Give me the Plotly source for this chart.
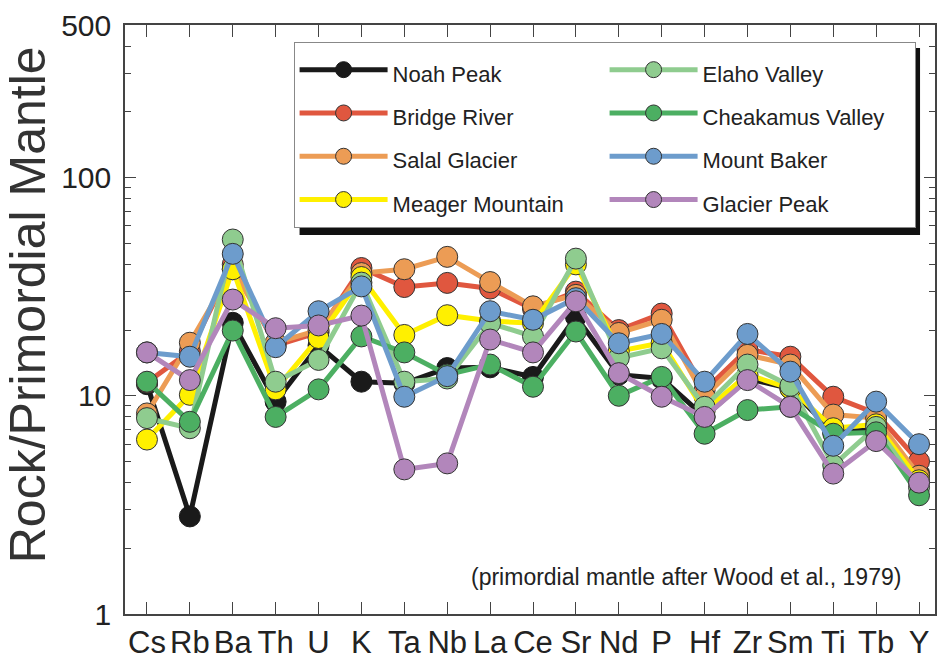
import plotly.graph_objects as go
import numpy as np

categories = ["Cs", "Rb", "Ba", "Th", "U", "K", "Ta", "Nb", "La", "Ce",
              "Sr", "Nd", "P", "Hf", "Zr", "Sm", "Ti", "Tb", "Y"]

noah_peak = [11.3, 2.8, 21.6, 9.4, 17.0, 11.6, 11.4, 13.4, 13.5, 12.2,
             23.0, 12.5, 12.0, 8.0, 12.0, 10.8, 6.8, 7.0, 4.4]
bridge_river = [11.5, 16.0, 40.0, 17.0, 19.5, 38.5, 31.5, 32.9, 31.0, 25.0,
                30.0, 20.0, 23.8, 10.6, 16.3, 15.1, 9.9, 8.3, 5.0]
salal_glacier = [8.3, 17.5, 38.0, 17.5, 20.0, 36.5, 38.0, 43.3, 33.2, 25.7,
                 29.0, 19.4, 22.3, 9.9, 15.4, 13.9, 8.2, 7.9, 4.3]
meager_mountain = [6.3, 10.1, 38.0, 10.7, 18.4, 35.0, 19.0, 23.4, 22.0, 21.5,
                   40.0, 16.0, 17.5, 8.5, 12.5, 10.8, 7.1, 7.4, 4.1]
elaho_valley = [7.9, 7.1, 52.0, 11.6, 14.6, 33.0, 11.6, 12.0, 21.5, 18.7,
                42.5, 14.9, 16.5, 8.9, 13.9, 11.1, 4.8, 7.2, 3.8]
cheakamus_valley = [11.6, 7.6, 19.9, 8.0, 10.7, 18.7, 15.8, 12.5, 13.9, 11.0,
                    19.7, 10.0, 12.2, 6.7, 8.6, 8.9, 6.7, 6.8, 3.5]
mount_baker = [15.8, 15.1, 44.7, 16.7, 24.4, 31.7, 9.9, 12.3, 24.4, 22.3,
               28.0, 17.4, 19.2, 11.6, 19.2, 12.9, 5.9, 9.4, 6.0]
glacier_peak = [15.8, 11.8, 27.6, 20.4, 21.0, 23.3, 4.6, 4.9, 18.1, 15.8,
                27.1, 12.7, 9.9, 8.0, 11.8, 8.9, 4.4, 6.2, 4.0]

series = [
    ("Noah Peak", noah_peak, "#1a1a1a", 1),
    ("Bridge River", bridge_river, "#e0573f", 3),
    ("Salal Glacier", salal_glacier, "#ec9c55", 5),
    ("Meager Mountain", meager_mountain, "#fff000", 7),
    ("Elaho Valley", elaho_valley, "#8fcc8f", 2),
    ("Cheakamus Valley", cheakamus_valley, "#4caf62", 4),
    ("Mount Baker", mount_baker, "#6d9ccc", 6),
    ("Glacier Peak", glacier_peak, "#b286bb", 8),
]

FONT = "Liberation Sans, Arial, Helvetica, sans-serif"

fig = go.Figure()
for name, vals, color, rank in series:
    edge = "#1a1a1a" if name == "Noah Peak" else "#333333"
    fig.add_trace(go.Scatter(
        x=categories, y=vals, mode="lines+markers",
        name='<span style="font-size:22px">' + name + '</span>',
        legendrank=rank,
        line=dict(color=color, width=5),
        marker=dict(color=color, size=21, line=dict(color=edge, width=1)),
    ))

L, R, T, B = 125, 1, 25, 50
W, H = 938, 664
pw, ph = W - L - R, H - T - B

def px_x(p):
    return (p - L) / pw

def px_y(p):
    return (H - B - p) / ph

minor_vals = [v * m for m in (1, 10, 100) for v in range(2, 10) if v * m < 500]

fig.update_layout(
    width=W, height=H,
    margin=dict(l=L, r=R, t=T, b=B),
    plot_bgcolor="white", paper_bgcolor="white",
    font=dict(family=FONT, color="#222222"),
    showlegend=True,
    legend=dict(
        orientation="h", x=px_x(294), y=px_y(42), xanchor="left", yanchor="top",
        bgcolor="white", bordercolor="#888888", borderwidth=1,
        font=dict(size=31, family=FONT, color="#222222"),
        entrywidth=207, itemwidth=88,
    ),
    xaxis=dict(
        range=[-0.512, 18.372], showgrid=False, zeroline=False,
        showline=True, linecolor="#444444", linewidth=1.5, mirror="ticks",
        ticks="inside", ticklen=12, tickcolor="#444444", tickwidth=1.2,
        tickfont=dict(size=31, family=FONT, color="#222222"),
    ),
    yaxis=dict(
        type="log", range=[0, np.log10(500)], showgrid=False, zeroline=False,
        showline=True, linecolor="#444444", linewidth=1.5, mirror="ticks",
        ticks="inside", ticklen=11, tickcolor="#444444", tickwidth=1.2,
        tickvals=[1, 10, 100, 500], ticktext=["1", "10", "100", "500"],
        tickfont=dict(size=30, family=FONT, color="#222222"),
        ticklabelstandoff=6,
        minor=dict(tickvals=minor_vals, ticks="inside", ticklen=6,
                   tickcolor="#444444", tickwidth=1),
    ),
    shapes=[dict(type="rect", xref="paper", yref="paper",
                 x0=px_x(300), x1=px_x(922), y0=px_y(235), y1=px_y(48),
                 fillcolor="#111111", line=dict(width=0), layer="above")],
    annotations=[
        dict(text="(primordial mantle after Wood et al., 1979)",
             xref="paper", yref="paper", x=px_x(905), y=px_y(577),
             xanchor="right", yanchor="middle", showarrow=False,
             font=dict(size=23, family=FONT, color="#222222")),
        dict(text="Rock/Primordial Mantle", textangle=-90,
             xref="paper", yref="paper", x=px_x(28), y=px_y(305),
             xanchor="center", yanchor="middle", showarrow=False,
             font=dict(size=50, family=FONT, color="#333333")),
    ],
)

fig.write_html("out.html")
